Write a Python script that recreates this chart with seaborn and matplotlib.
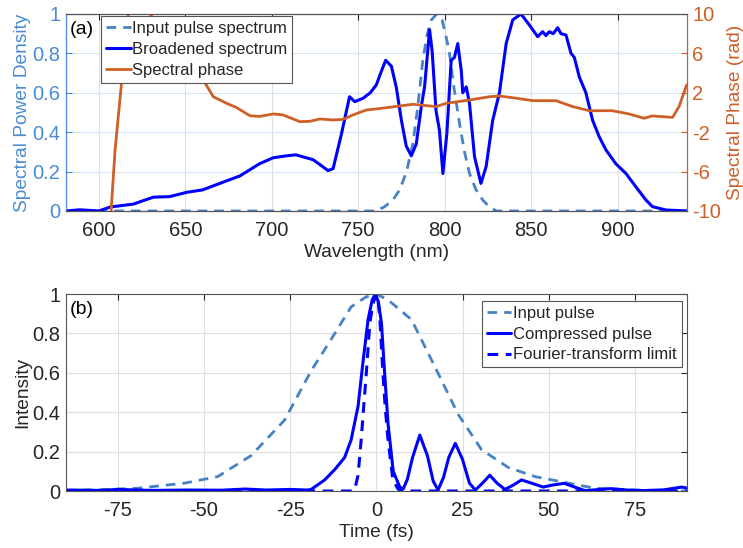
import matplotlib
matplotlib.use("Agg")
import matplotlib.pyplot as plt
import seaborn as sns

# ---- (a) spectra ----
spec_wl = [581, 589, 600, 606.5, 620, 631.5, 641, 651, 660, 670, 681.6, 693,
           700.8, 708.5, 714, 724, 732.6, 735.5, 740.3, 745, 748, 752.8, 757,
           760.5, 763, 765.9, 769.2, 772, 775, 777.8, 780.7, 783.6, 786.5,
           788.4, 791.3, 792.8, 795, 797, 799, 801.3, 803.8, 805.7, 807.6,
           809.6, 810.5, 812.5, 814.4, 817.3, 821, 824, 827.8, 831.7, 835.6,
           839.4, 844.2, 849, 853.8, 856.7, 858.6, 860.5, 862.8, 865.4, 867.3,
           870.2, 873.1, 875, 877.9, 881.7, 885.6, 889.4, 893.3, 899, 904.9,
           910.6, 916.4, 920.2, 928, 940]
spec_broad = [0.0, 0.006, 0.0, 0.02, 0.035, 0.07, 0.073, 0.095, 0.107, 0.14,
              0.178, 0.24, 0.27, 0.28, 0.285, 0.26, 0.205, 0.215, 0.39, 0.58,
              0.555, 0.572, 0.60, 0.64, 0.70, 0.765, 0.735, 0.63, 0.46, 0.33,
              0.28, 0.34, 0.53, 0.63, 0.92, 0.81, 0.51, 0.41, 0.19, 0.395,
              0.765, 0.78, 0.85, 0.715, 0.60, 0.63, 0.545, 0.275, 0.14, 0.225,
              0.46, 0.60, 0.85, 0.97, 1.0, 0.944, 0.885, 0.91, 0.89, 0.91,
              0.90, 0.93, 0.90, 0.893, 0.80, 0.78, 0.68, 0.60, 0.46, 0.377,
              0.31, 0.24, 0.19, 0.123, 0.056, 0.022, 0.005, 0.0]

input_wl = [580, 760, 765, 770, 774, 778, 781.6, 784.5, 787.4, 790, 792.3,
            795.5, 798.5, 800.5, 802.8, 805.5, 808.6, 811.5, 814.4, 818, 822,
            826, 830, 940]
input_spec = [0, 0, 0.02, 0.055, 0.107, 0.2, 0.34, 0.53, 0.767, 0.9, 0.97,
              1.0, 0.97, 0.9, 0.8, 0.62, 0.445, 0.3, 0.19, 0.11, 0.056, 0.02,
              0, 0]

phase_wl = [606.5, 607.1, 609.4, 613.3, 617, 619, 627, 629.6, 640, 652, 660.4,
            666.2, 673.9, 679.6, 687.4, 693, 700.8, 706.6, 716.2, 722, 727.8,
            735.5, 741.3, 747, 754.7, 762.4, 768.2, 781.6, 795, 801, 814.4,
            826, 831.7, 839.4, 851, 864.4, 874, 883.7, 897, 906.7, 915.4, 920,
            928, 931.8, 935.6, 940]
phase = [-11, -10, -3.8, 3.3, 10, 12.5, 12.5, 10, 7.5, 5.0, 3.3, 1.6, 0.93,
         0.5, -0.33, -0.4, -0.15, -0.25, -0.93, -0.9, -0.66, -0.76, -0.7,
         -0.25, 0.25, 0.4, 0.53, 0.83, 0.6, 0.93, 1.27, 1.6, 1.67, 1.5, 1.2,
         1.2, 0.6, 0.18, 0.18, -0.15, -0.59, -0.35, -0.45, -0.5, 0.6, 2.8]

# ---- (b) temporal profiles ----
t_input = [-90, -80, -69.2, -55.6, -46, -36.3, -26.6, -18.9, -13.1, -7.3, -3,
           0, 3.4, 10.2, 17, 23.7, 30.5, 38.2, 46, 53.7, 63.4, 75, 90]
i_input = [0.003, 0.007, 0.014, 0.04, 0.073, 0.18, 0.36, 0.61, 0.77, 0.935,
           0.985, 1.0, 0.97, 0.87, 0.63, 0.39, 0.21, 0.12, 0.073, 0.047,
           0.014, 0.005, 0.0]

t_comp = [-90, -80, -75, -65, -55, -45, -38, -32, -25, -20, -18.9, -15, -12,
          -9.2, -7.3, -5.3, -3.9, -2.4, -1.2, -0.3, 0.6, 1.5, 2.4, 3.4, 4.9,
          6.8, 7.8, 9, 10.5, 12.6, 14.8, 16.5, 17.9, 19.5, 21, 22.9, 25,
          27, 28.7, 30.8, 32.9, 35, 37.3, 39.7, 42.1, 45, 48.4, 51, 54.5,
          57.5, 60.5, 65, 68, 72.8, 77.6, 83.4, 88.6, 90]
i_comp = [0.005, 0.003, 0.008, 0.003, 0.005, 0.004, 0.01, 0.005, 0.008,
          0.005, 0.008, 0.056, 0.11, 0.17, 0.26, 0.43, 0.65, 0.87, 0.97, 1.0,
          0.96, 0.85, 0.6, 0.34, 0.1, 0.02, 0.01, 0.06, 0.17, 0.284, 0.18,
          0.05, 0.005, 0.07, 0.17, 0.242, 0.16, 0.04, 0.005, 0.04, 0.08, 0.04,
          0.008, 0.03, 0.056, 0.04, 0.02, 0.03, 0.039, 0.02, 0.002, 0.008,
          0.012, 0.005, 0.002, 0.006, 0.02, 0.015]

t_ftl = [-90, -7, -6.3, -5.3, -4.4, -2.9, -1.9, -1, 0, 0.5, 1.0, 1.9, 2.6,
         3.4, 4.8, 6.3, 7.5, 90]
i_ftl = [0, 0, 0.005, 0.08, 0.26, 0.6, 0.85, 0.95, 1.0, 0.97, 0.88, 0.6,
         0.42, 0.26, 0.056, 0.01, 0, 0]

sns.set_style("white")
plt.rcParams["font.family"] = ["Liberation Sans", "DejaVu Sans"]
plt.rcParams["axes.unicode_minus"] = False

blue = "#0000FF"
light_blue = "#4682C4"
left_col = "#4A8BD2"
orange = "#CD5F27"
dark = "#262626"
dash = (3.5, 2.5)
tick_fs = 14.5
label_fs = 13.8

fig = plt.figure(figsize=(7.43, 5.48), dpi=100)
ax = fig.add_axes([0.0888, 0.615, 0.8354, 0.3595])
ax2 = ax.twinx()

sns.lineplot(x=input_wl, y=input_spec, ax=ax, color=light_blue, lw=2,
             label="Input pulse spectrum")
ax.lines[-1].set_dashes(dash)
sns.lineplot(x=spec_wl, y=spec_broad, ax=ax, color=blue, lw=2.2,
             label="Broadened spectrum")
sns.lineplot(x=phase_wl, y=phase, ax=ax2, color=orange, lw=2,
             label="Spectral phase")

ax.set_xlim(581, 940)
ax.set_ylim(0, 1)
ax2.set_ylim(-10, 10)
ax.set_xticks([600, 650, 700, 750, 800, 850, 900])
ax.set_yticks([0, 0.2, 0.4, 0.6, 0.8, 1])
ax.set_yticklabels(["0", "0.2", "0.4", "0.6", "0.8", "1"])
ax2.set_yticks([-10, -6, -2, 2, 6, 10])
ax.set_xlabel("Wavelength (nm)", color=dark, fontsize=label_fs, labelpad=3)
ax.set_ylabel("Spectral Power Density", color=left_col, fontsize=label_fs,
              labelpad=1)
ax2.set_ylabel("Spectral Phase (rad)", color=orange, fontsize=label_fs,
               labelpad=4)
ax.xaxis.grid(True, color="#dedede", lw=0.8)
ax.yaxis.grid(True, color="#d6e4f4", lw=0.8)
ax.set_axisbelow(True)
ax.tick_params(axis="x", direction="in", length=4, top=True, colors=dark,
               labelsize=tick_fs, pad=7)
ax.tick_params(axis="y", direction="in", length=4, colors=left_col,
               labelsize=tick_fs, pad=4)
ax2.tick_params(axis="y", direction="in", length=4, colors=orange,
                labelsize=tick_fs, pad=4)
for s in ["top", "bottom"]:
    ax2.spines[s].set_color("#555555")
ax2.spines["left"].set_color(left_col)
ax2.spines["right"].set_color(orange)
for s in ax.spines.values():
    s.set_linewidth(0.8)
for s in ax2.spines.values():
    s.set_linewidth(0.8)
ax.text(0.006, 0.965, "(a)", transform=ax.transAxes, ha="left", va="top",
        color="black", fontsize=14)

if ax.get_legend() is not None:
    ax.get_legend().remove()
if ax2.get_legend() is not None:
    ax2.get_legend().remove()
handles = ax.get_lines()[:2] + ax2.get_lines()[:1]
leg = ax2.legend(handles, [h.get_label() for h in handles], loc="upper left",
                 bbox_to_anchor=(0.057, 0.99), fontsize=12, frameon=True,
                 fancybox=False, edgecolor="#555555", framealpha=1,
                 handlelength=1.45, handletextpad=0.1, borderpad=0.3,
                 labelspacing=0.35, borderaxespad=0.0)
leg.get_frame().set_linewidth(0.8)

# ---- (b) ----
bx = fig.add_axes([0.0888, 0.104, 0.8354, 0.3595])
sns.lineplot(x=t_input, y=i_input, ax=bx, color=light_blue, lw=2,
             label="Input pulse")
bx.lines[-1].set_dashes(dash)
sns.lineplot(x=t_comp, y=i_comp, ax=bx, color=blue, lw=2.2,
             label="Compressed pulse")
sns.lineplot(x=t_ftl, y=i_ftl, ax=bx, color=blue, lw=2.2,
             label="Fourier-transform limit")
bx.lines[-1].set_dashes(dash)

bx.set_xlim(-90, 90)
bx.set_ylim(0, 1)
bx.set_xticks([-75, -50, -25, 0, 25, 50, 75])
bx.set_yticks([0, 0.2, 0.4, 0.6, 0.8, 1])
bx.set_yticklabels(["0", "0.2", "0.4", "0.6", "0.8", "1"])
bx.set_xlabel("Time (fs)", color=dark, fontsize=label_fs, labelpad=3)
bx.set_ylabel("Intensity", color=dark, fontsize=label_fs, labelpad=1)
bx.grid(True, color="#dedede", lw=0.8)
bx.set_axisbelow(True)
bx.tick_params(axis="x", direction="in", length=4, top=True, colors=dark,
               labelsize=tick_fs, pad=7)
bx.tick_params(axis="y", direction="in", length=4, right=True, colors=dark,
               labelsize=tick_fs, pad=4)
for s in bx.spines.values():
    s.set_color("#555555")
    s.set_linewidth(0.8)
bx.text(0.006, 0.965, "(b)", transform=bx.transAxes, ha="left", va="top",
        color="black", fontsize=14)
if bx.get_legend() is not None:
    bx.get_legend().remove()
bh = bx.get_lines()[:3]
leg2 = bx.legend(bh, [h.get_label() for h in bh], loc="upper right",
                 bbox_to_anchor=(0.992, 0.966), fontsize=12, frameon=True,
                 fancybox=False, edgecolor="#555555", framealpha=1,
                 handlelength=1.45, handletextpad=0.1, borderpad=0.3,
                 labelspacing=0.35, borderaxespad=0.0)
leg2.get_frame().set_linewidth(0.8)

fig.savefig("out.png", dpi=100)
